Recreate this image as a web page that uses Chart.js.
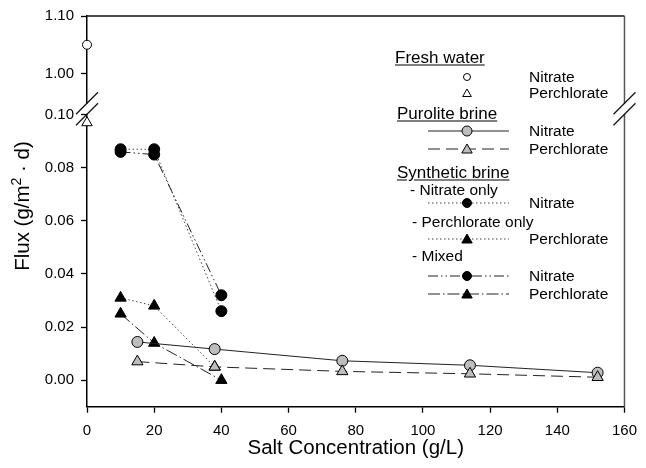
<!DOCTYPE html>
<html><head><meta charset="utf-8">
<script src="https://cdn.jsdelivr.net/npm/chart.js@4"></script>
<style>
html,body{margin:0;padding:0;background:#fff;}
#wrap{position:relative;width:646px;height:468px;}
#c{position:absolute;left:0;top:0;}
.lg{position:absolute;font-family:"Liberation Sans",Arial,sans-serif;color:#000;white-space:nowrap;line-height:1;transform:translateY(-50%);}
.hd{font-size:17px;text-decoration:underline;text-underline-offset:2px;}
.it{font-size:15.5px;}
#ytitle{position:absolute;left:22px;top:206px;font-family:"Liberation Sans",Arial,sans-serif;font-size:20.5px;white-space:nowrap;transform:translate(-50%,-50%) rotate(-90deg);color:#000;}
#ytitle sup{font-size:14px;vertical-align:8px;line-height:0;}
#lgsvg{position:absolute;left:0;top:0;pointer-events:none;}
</style></head>
<body>
<div id="wrap">
<canvas id="c" width="646" height="468"></canvas>
<div id="ytitle">Flux (g/m<sup>2</sup> · d)</div>
<svg id="lgsvg" width="646" height="468"></svg>
<div class="lg hd" style="left:395px;top:57px">Fresh water</div>
<div class="lg it" style="left:529px;top:77px">Nitrate</div>
<div class="lg it" style="left:529px;top:93px">Perchlorate</div>
<div class="lg hd" style="left:397px;top:113px">Purolite brine</div>
<div class="lg it" style="left:529px;top:131px">Nitrate</div>
<div class="lg it" style="left:529px;top:149px">Perchlorate</div>
<div class="lg hd" style="left:397px;top:172px">Synthetic brine</div>
<div class="lg it" style="left:410px;top:190px">- Nitrate only</div>
<div class="lg it" style="left:529px;top:203px">Nitrate</div>
<div class="lg it" style="left:412px;top:222px">- Perchlorate only</div>
<div class="lg it" style="left:529px;top:239px">Perchlorate</div>
<div class="lg it" style="left:412px;top:256px">- Mixed</div>
<div class="lg it" style="left:529px;top:276px">Nitrate</div>
<div class="lg it" style="left:529px;top:294px">Perchlorate</div>
</div>
<script>
// ---- data ----
const xTicks = [0, 20, 40, 60, 80, 100, 120, 140, 160];
const yLowTicks = [0, 0.02, 0.04, 0.06, 0.08, 0.10];
const yHighTicks = [1.00, 1.10];

const freshX = [0];
const freshNitrate = [1.05];
const freshPerchlorate = [0.097];

const puroliteX = [15, 38, 76, 114, 152];
const puroliteNitrate = [0.0144, 0.0117, 0.0073, 0.0056, 0.0028];
const purolitePerchlorate = [0.0070, 0.0050, 0.0033, 0.0024, 0.0011];

const synthX = [10, 20, 40];
const nitrateOnly = [0.087, 0.087, 0.026];
const perchlorateOnlyX = [10, 20, 38];
const perchlorateOnly = [0.031, 0.028, 0.005];
const mixedNitrate = [0.086, 0.085, 0.032];
const mixedPerchlorate = [0.025, 0.014, 0.000];

const FONT = '"Liberation Sans", Arial, sans-serif';
const pts = (xs, ys) => xs.map((x, i) => ({x: x, y: ys[i]}));

const DOT = [1.5, 2.5];
const DASH = [12, 6];
const DASHDOTDOT = [10, 3, 1.5, 3, 1.5, 3];
const DASHDOT = [12, 3, 1.5, 3];

function ds(label, xs, ys, o) {
  return Object.assign({
    label: label, data: pts(xs, ys), yAxisID: 'y', clip: false, tension: 0,
    borderColor: '#222', borderWidth: 1, pointBorderColor: '#000', pointBorderWidth: 1,
    pointHoverRadius: 0, showLine: true, fill: false
  }, o);
}

const datasets = [
  ds('Purolite Perchlorate', puroliteX, purolitePerchlorate, {borderDash: DASH, pointStyle: 'triangle', pointRadius: 6.5, pointBackgroundColor: '#bdbdbd', order: 1}),
  ds('Purolite Nitrate', puroliteX, puroliteNitrate, {pointStyle: 'circle', pointRadius: 5.5, pointBackgroundColor: '#bdbdbd', order: 2}),
  ds('Mixed Perchlorate', synthX, mixedPerchlorate, {borderDash: DASHDOT, pointStyle: 'triangle', pointRadius: 6.5, pointBackgroundColor: '#000', order: 3}),
  ds('Perchlorate only', perchlorateOnlyX, perchlorateOnly, {borderDash: DOT, borderColor: '#444', pointStyle: 'triangle', pointRadius: 6.5, pointBackgroundColor: '#000', order: 4}),
  ds('Mixed Nitrate', synthX, mixedNitrate, {borderDash: DASHDOTDOT, pointStyle: 'circle', pointRadius: 5.5, pointBackgroundColor: '#000', order: 5}),
  ds('Nitrate only', synthX, nitrateOnly, {borderDash: DOT, borderColor: '#444', pointStyle: 'circle', pointRadius: 5.5, pointBackgroundColor: '#000', order: 6}),
  ds('Fresh Perchlorate', freshX, freshPerchlorate, {showLine: false, pointStyle: 'triangle', pointRadius: 6, pointBackgroundColor: '#fff', order: 0}),
  ds('Fresh Nitrate', freshX, freshNitrate, {yAxisID: 'yTop', showLine: false, pointStyle: 'circle', pointRadius: 4.5, pointBackgroundColor: '#fff', order: 0})
];

const PLOT = {left: 87, right: 632, top: 15, bottom: 406.7, brk: 108};
const lowMax = 0.10 + (114 - PLOT.brk) / 2660;
const highMin = 1.10 - (PLOT.brk - PLOT.top) / 577;

const tickCommon = {color: '#000', font: {family: FONT, size: 15}};
const gridCommon = {drawOnChartArea: false, tickLength: 6, tickColor: '#000', tickWidth: 1.3};
const borderCommon = {color: '#000', width: 1.5};

const breakPlugin = {
  id: 'frameBreak',
  afterDraw(chart) {
    const ctx = chart.ctx, a = chart.chartArea;
    const B = chart.scales.y.top;
    ctx.save();
    ctx.strokeStyle = '#111'; ctx.lineWidth = 1.5;
    ctx.beginPath(); ctx.moveTo(a.left, a.top); ctx.lineTo(a.right, a.top); ctx.stroke();
    ctx.strokeStyle = '#555';
    ctx.beginPath(); ctx.moveTo(a.right, a.top); ctx.lineTo(a.right, a.bottom); ctx.stroke();
    [a.left, a.right].forEach(x => {
      ctx.fillStyle = '#fff';
      ctx.fillRect(x - 2, B - 5, 4, 10);
      ctx.strokeStyle = '#111'; ctx.lineWidth = 1.2;
      [-5.5, 5.5].forEach(d => {
        ctx.beginPath();
        ctx.moveTo(x - 11, B + d + 11);
        ctx.lineTo(x + 11, B + d - 11);
        ctx.stroke();
      });
    });
    ctx.restore();
  }
};

new Chart(document.getElementById('c'), {
  type: 'line',
  data: {datasets: datasets},
  plugins: [breakPlugin],
  options: {
    responsive: false, animation: false, devicePixelRatio: 1,
    layout: {padding: {left: 0, right: 646 - PLOT.right, top: PLOT.top, bottom: 0}},
    plugins: {legend: {display: false}, tooltip: {enabled: false}},
    scales: {
      x: {
        type: 'linear', min: 0, max: 160,
        afterBuildTicks: s => { s.ticks = xTicks.map(v => ({value: v})); },
        afterFit: s => { s.height = 468 - PLOT.bottom; },
        ticks: Object.assign({padding: 9, maxRotation: 0, autoSkip: false}, tickCommon),
        grid: gridCommon, border: borderCommon,
        title: {display: true, text: 'Salt Concentration (g/L)', color: '#000', font: {family: FONT, size: 20.5}, padding: {top: 0, bottom: 7}}
      },
      y: {
        type: 'linear', position: 'left', stack: 'ys', stackWeight: PLOT.bottom - PLOT.brk,
        min: -0.01, max: lowMax,
        afterBuildTicks: s => { s.ticks = yLowTicks.map(v => ({value: v})); },
        afterFit: s => { s.width = PLOT.left; },
        ticks: Object.assign({padding: 7, callback: v => v.toFixed(2)}, tickCommon),
        grid: gridCommon, border: borderCommon
      },
      yTop: {
        type: 'linear', position: 'left', stack: 'ys', stackWeight: PLOT.brk - PLOT.top,
        min: highMin, max: 1.10,
        afterBuildTicks: s => { s.ticks = yHighTicks.map(v => ({value: v})); },
        afterFit: s => { s.width = PLOT.left; },
        ticks: Object.assign({padding: 7, callback: v => v.toFixed(2)}, tickCommon),
        grid: gridCommon, border: borderCommon
      }
    }
  }
});

// ---- legend samples (SVG) ----
const svg = document.getElementById('lgsvg');
const NS = 'http://www.w3.org/2000/svg';
function el(tag, attrs) { const e = document.createElementNS(NS, tag); for (const k in attrs) e.setAttribute(k, attrs[k]); svg.appendChild(e); return e; }
function tri(cx, cy, r, fill) {
  el('polygon', {points: `${cx},${cy - r} ${cx + 0.866 * r},${cy + 0.5 * r} ${cx - 0.866 * r},${cy + 0.5 * r}`, fill: fill, stroke: '#000', 'stroke-width': 1});
}
function circ(cx, cy, r, fill) { el('circle', {cx: cx, cy: cy, r: r, fill: fill, stroke: '#000', 'stroke-width': 1}); }
function line(y, dash, color) {
  const a = {x1: 428, y1: y, x2: 509, y2: y, stroke: color || '#222', 'stroke-width': 1};
  if (dash) a['stroke-dasharray'] = dash.join(' ');
  el('line', a);
}
const MX = 467;
circ(MX, 77, 3.5, '#fff');
tri(MX, 94, 5, '#fff');
line(131, null); circ(MX, 131, 5, '#bdbdbd');
line(149, DASH); tri(MX, 150, 6, '#bdbdbd');
line(203, DOT, '#444'); circ(MX, 203, 4.5, '#000');
line(239, DOT, '#444'); tri(MX, 240, 6, '#000');
line(276, DASHDOTDOT); circ(MX, 276, 4.5, '#000');
line(294, DASHDOT); tri(MX, 295, 6, '#000');
</script>
</body></html>
